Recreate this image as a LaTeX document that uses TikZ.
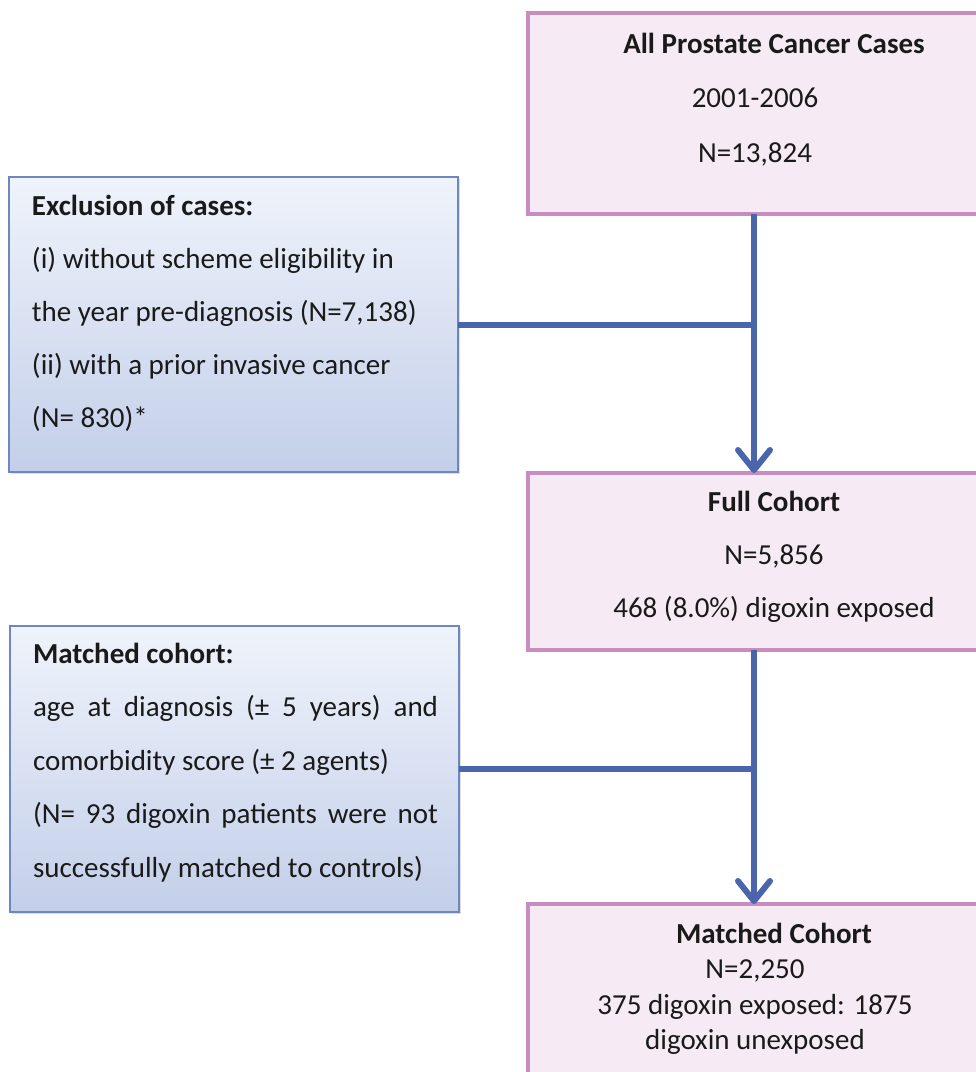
\documentclass[tikz,border=0pt]{standalone}
\usepackage{fontspec}
\setmainfont{Carlito}
\usetikzlibrary{arrows.meta,shadows}
\definecolor{pinkfill}{HTML}{F6EBF4}
\definecolor{pinkdraw}{HTML}{C98CBF}
\definecolor{bluetop}{HTML}{EFF3FB}
\definecolor{bluebot}{HTML}{C3CFE9}
\definecolor{bluedraw}{HTML}{6C87C3}
\definecolor{connblue}{HTML}{4A65AB}
\definecolor{textcol}{HTML}{1A1A1A}
\newcommand\leftpad{\rule{38pt}{0pt}}
\begin{document}
\begin{tikzpicture}[x=1pt,y=-1pt,
  pinkbox/.style={draw=pinkdraw, line width=3.5pt, fill=pinkfill, anchor=north west, inner sep=0pt, outer sep=0pt, text=textcol},
  bluebox/.style={draw=bluedraw, line width=1.5pt, top color=bluetop, bottom color=bluebot, anchor=north west, inner sep=0pt, outer sep=0pt, text=textcol,
    drop shadow={shadow xshift=2pt, shadow yshift=-2pt, opacity=0.25, fill=gray}},
  connector/.style={draw=connblue, line width=6pt},
  arrowed/.style={-{Straight Barb[length=20pt,width=32pt,round]}}
]
\useasboundingbox (0,0) rectangle (976,1072);
\fill[white] (0,0) rectangle (976,1072);
\clip (0,0) rectangle (976,1072);

\node[pinkbox] (top) at (528,13) {\parbox[c][201pt][t]{492pt}{\centering\fontsize{29}{54.5}\selectfont\rule{0pt}{40pt}\textbf{All Prostate Cancer Cases}\\2001-2006\leftpad\\N=13,824\leftpad}};

\node[pinkbox] (full) at (528,473) {\parbox[c][177pt][t]{492pt}{\centering\fontsize{29}{53}\selectfont\rule{0pt}{38pt}\textbf{Full Cohort}\\N=5,856\\468 (8.0\%) digoxin exposed}};

\node[pinkbox] (matched) at (528,904) {\parbox[c][200pt][t]{492pt}{\centering\fontsize{29}{35.5}\selectfont\rule{0pt}{39pt}\textbf{Matched Cohort}\\N=2,250\leftpad\\375 digoxin exposed: 1875\leftpad\\digoxin unexposed\leftpad}};

\node[bluebox] (excl) at (9,177) {\parbox[c][295pt][t]{449pt}{\leftskip=23pt\parindent=0pt\fontsize{29}{53}\selectfont\rule{0pt}{38pt}\textbf{Exclusion of cases:}\\(i) without scheme eligibility in\\the year pre-diagnosis (N=7,138)\\(ii) with a prior invasive cancer\\(N= 830)*}};

\node[bluebox] (crit) at (10,626) {\parbox[c][286pt][t]{449pt}{\leftskip=23pt\parindent=0pt\fontsize{29}{53.5}\selectfont\rule{0pt}{37pt}\textbf{Matched cohort:}\\\makebox[405pt][s]{age at diagnosis (± 5 years) and}\\comorbidity score (± 2 agents)\\\makebox[405pt][s]{(N= 93 digoxin patients were not}\\successfully matched to controls)}};

\coordinate (vx) at (754,0);
\draw[connector,arrowed] (top.south -| vx) -- (full.north -| vx);
\draw[connector] (excl.east) -- (excl.east -| vx);
\draw[connector,arrowed] (full.south -| vx) -- (matched.north -| vx);
\draw[connector] (crit.east) -- (crit.east -| vx);
\end{tikzpicture}
\end{document}
